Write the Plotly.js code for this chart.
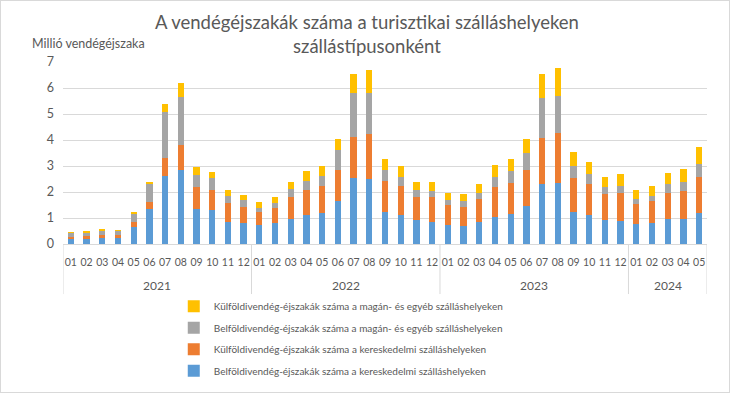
<!DOCTYPE html>
<html><head><meta charset="utf-8">
<script src="https://cdn.plot.ly/plotly-3.0.1.min.js"></script>
<style>html,body{margin:0;padding:0;background:#fff}#c{width:728px;height:391px;border:1px solid #d9d9d9}</style>
</head><body><div id="c"></div>
<script>
const years = ["2021","2022","2023","2024"];
const monthsPerYear = [12,12,12,5];
const monthLabels = ["01","02","03","04","05","06","07","08","09","10","11","12"];
// Millió vendégéjszaka
const belfoldiKer = [0.19,0.20,0.23,0.23,0.66,1.35,2.63,2.85,1.35,1.30,0.86,0.80,
  0.72,0.80,0.98,1.10,1.20,1.66,2.54,2.49,1.25,1.12,0.91,0.86,
  0.74,0.70,0.83,1.03,1.17,1.48,2.32,2.35,1.23,1.11,0.93,0.89,
  0.78,0.80,0.96,0.96,1.20];
const kulfoldiKer = [0.09,0.11,0.11,0.10,0.17,0.28,0.67,0.97,0.86,0.78,0.72,0.64,
  0.52,0.58,0.81,0.97,1.03,1.18,1.56,1.74,1.18,1.11,0.89,0.94,
  0.75,0.74,0.89,1.15,1.19,1.37,1.74,1.92,1.32,1.20,1.01,1.06,
  0.77,0.86,1.02,1.08,1.39];
const belfoldiMagan = [0.13,0.12,0.16,0.16,0.34,0.66,1.76,1.84,0.45,0.46,0.25,0.25,
  0.15,0.19,0.32,0.37,0.40,0.77,1.69,1.56,0.42,0.35,0.26,0.24,
  0.21,0.22,0.26,0.40,0.46,0.65,1.55,1.44,0.45,0.40,0.27,0.30,
  0.19,0.20,0.33,0.36,0.49];
const kulfoldiMagan = [0.04,0.06,0.07,0.06,0.06,0.11,0.32,0.52,0.29,0.23,0.23,0.21,
  0.22,0.24,0.29,0.38,0.37,0.43,0.74,0.89,0.42,0.41,0.32,0.36,
  0.28,0.27,0.32,0.45,0.45,0.52,0.92,1.05,0.52,0.44,0.37,0.46,
  0.34,0.36,0.42,0.49,0.64];
const seriesNames = [
  "Belföldivendég-éjszakák száma a kereskedelmi szálláshelyeken",
  "Külföldivendég-éjszakák száma a kereskedelmi szálláshelyeken",
  "Belföldivendég-éjszakák száma a magán- és egyéb szálláshelyeken",
  "Külföldivendég-éjszakák száma a magán- és egyéb szálláshelyeken"
];
const colors = ["#5B9BD5","#ED7D31","#A5A5A5","#FFC000"];

// build categories (year-month) and month tick labels
const xCat = [], xMonth = [], yearStart = [];
years.forEach((y,i)=>{
  yearStart.push(xCat.length);
  for(let m=0;m<monthsPerYear[i];m++){ xCat.push(y+"-"+monthLabels[m]); xMonth.push(monthLabels[m]); }
});
const nCat = xCat.length;

const data = [belfoldiKer,kulfoldiKer,belfoldiMagan,kulfoldiMagan].map((v,i)=>({
  type:"bar", x:xCat, y:v, name:seriesNames[i], legendgroup:"g"+i, legendrank:4-i,
  marker:{color:colors[i]}, hoverinfo:"y"
}));

const gray = "#595959", line = "#d9d9d9";
const dividerBottom = -0.275, yearY = -0.228;
const shapes = [], annotations = [];
years.forEach((y,i)=>{
  const s = yearStart[i], e = s + monthsPerYear[i] - 1;
  shapes.push({type:"line", xref:"x", yref:"paper", x0:s-0.5, x1:s-0.5, y0:0, y1:dividerBottom, line:{color:line,width:1}});
  annotations.push({text:y, xref:"x", yref:"paper", x:(s+e)/2, y:yearY, xanchor:"center", yanchor:"middle",
    showarrow:false, font:{size:12,color:gray}});
});
shapes.push({type:"line", xref:"x", yref:"paper", x0:nCat-0.5, x1:nCat-0.5, y0:0, y1:dividerBottom, line:{color:line,width:1}});
annotations.push(
  {text:"A vendégéjszakák száma a turisztikai szálláshelyeken<br>szállástípusonként", xref:"paper", yref:"paper",
    x:0.472, y:1.155, xanchor:"center", yanchor:"middle", showarrow:false, font:{size:18.5,color:gray}},
  {text:"Millió vendégéjszaka", xref:"paper", yref:"paper", x:-0.052, y:1.1, xanchor:"left", yanchor:"middle",
    showarrow:false, font:{size:12.5,color:gray}}
);

const font = "Lato, 'Open Sans', sans-serif";
const layout = {
  width:728, height:391,
  margin:{l:62,r:22,t:61,b:148,autoexpand:false},
  barmode:"stack", bargap:0.6,
  paper_bgcolor:"#fff", plot_bgcolor:"#fff",
  font:{family:font, color:gray, size:12},
  xaxis:{type:"category", tickmode:"array", tickvals:xCat, ticktext:xMonth, tickangle:0, automargin:false,
    tickfont:{size:10.5,color:gray}, showline:true, linecolor:line, ticks:"", showgrid:false, ticklabelstandoff:8,
    range:[-0.5, nCat-0.5]},
  yaxis:{range:[0,7], dtick:1, showgrid:true, gridcolor:line, zeroline:false, automargin:false,
    tickfont:{size:12.5,color:gray}, ticks:"", showline:false, ticklabelstandoff:8},
  legend:{orientation:"v", traceorder:"grouped", x:0.172, xanchor:"left", y:-0.262, yanchor:"top",
    font:{size:10,color:gray}, itemwidth:30, tracegroupgap:2.5, bgcolor:"rgba(0,0,0,0)"},
  shapes:shapes, annotations:annotations
};
Plotly.newPlot("c", data, layout, {displayModeBar:false, staticPlot:true});
</script></body></html>
